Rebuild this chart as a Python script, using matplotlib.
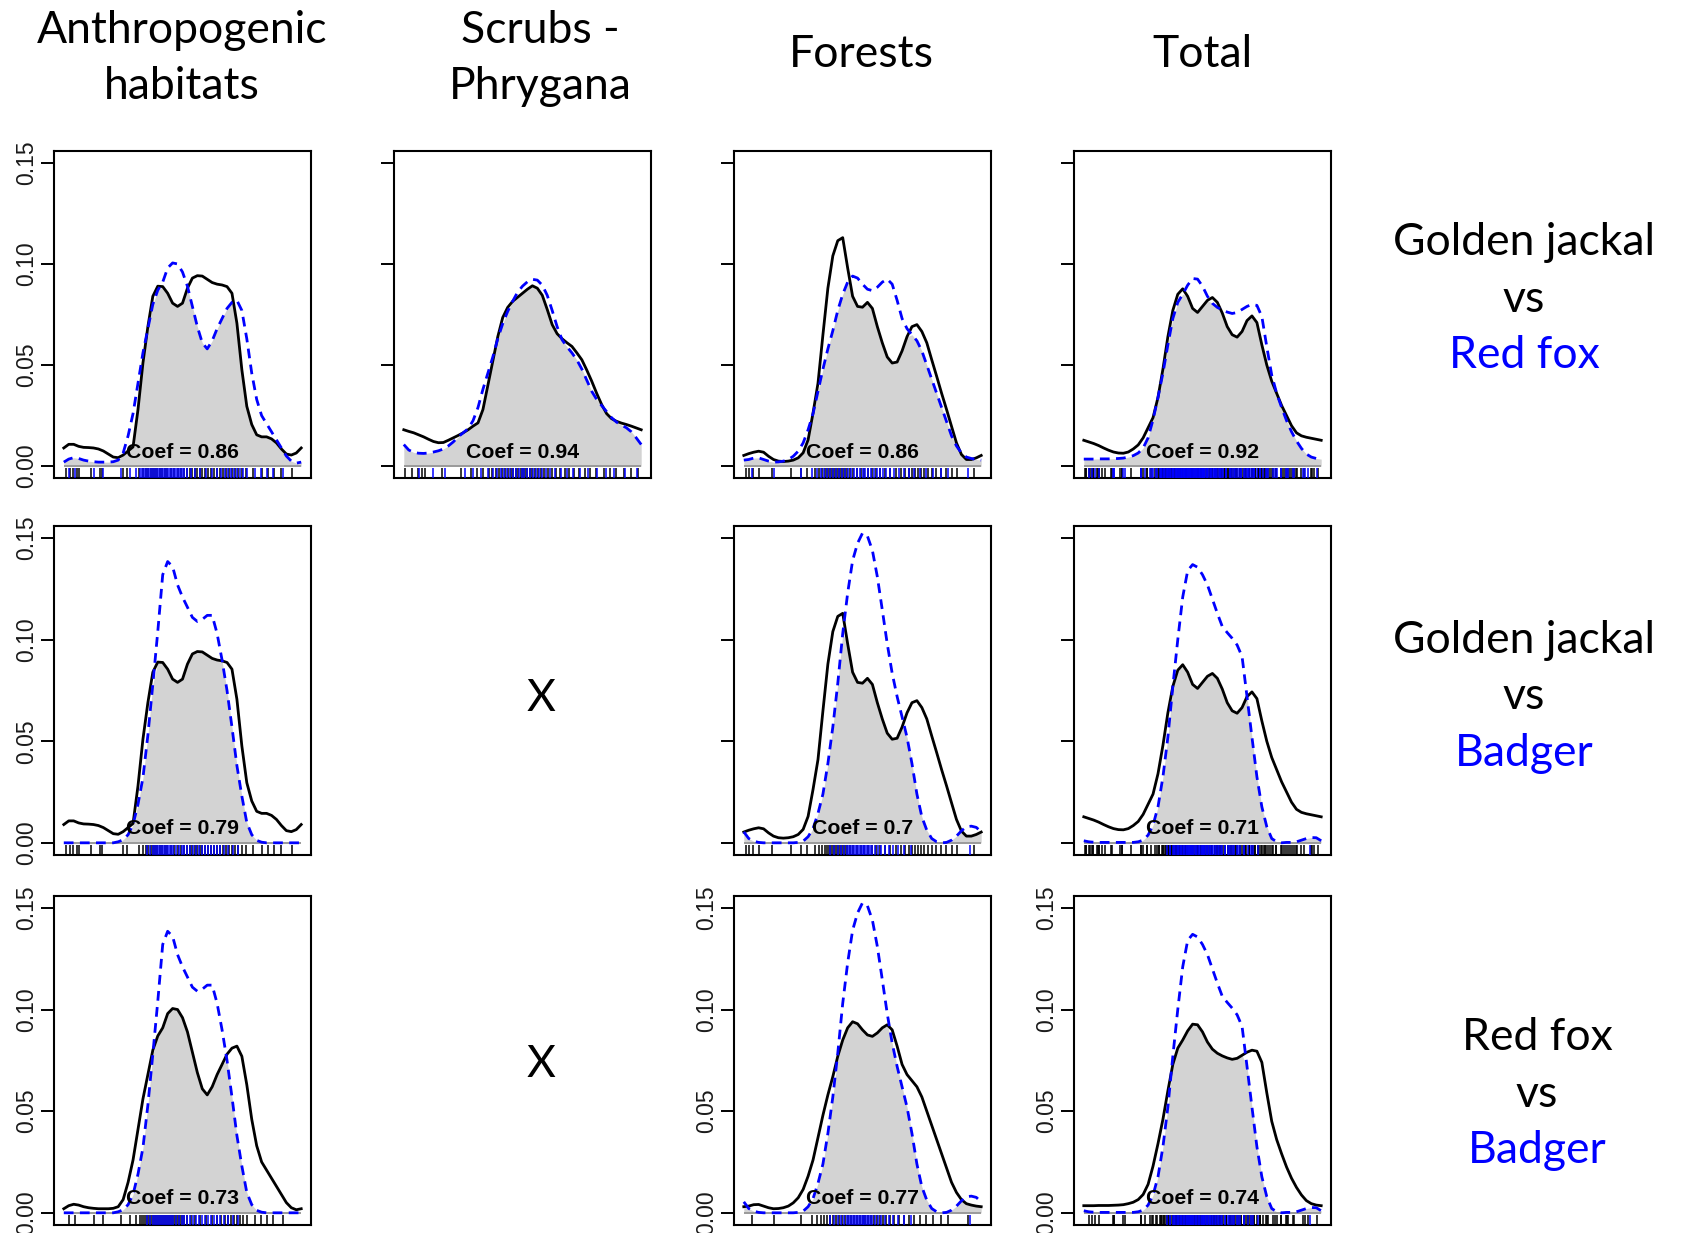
import numpy as np
import matplotlib
matplotlib.use("Agg")
import matplotlib.pyplot as plt

# ---------------- data ----------------
hours = np.arange(0, 24.01, 0.5)   # 49 time points (h)

# Kernel density estimates (0.5 h steps)
jackal_anthro = [0.0090, 0.0108, 0.0108, 0.0098, 0.0093, 0.0092, 0.0090, 0.0085, 0.0075, 0.0060,
                 0.0045, 0.0042, 0.0055, 0.0075, 0.0095, 0.0280, 0.0510, 0.0690, 0.0840, 0.0890,
                 0.0888, 0.0855, 0.0806, 0.0790, 0.0806, 0.0880, 0.0930, 0.0942, 0.0940, 0.0924,
                 0.0908, 0.0900, 0.0896, 0.0888, 0.0855, 0.0707, 0.0477, 0.0296, 0.0206, 0.0155,
                 0.0145, 0.0145, 0.0135, 0.0115, 0.0085, 0.0060, 0.0055, 0.0065, 0.0090]
fox_anthro = [0.0020, 0.0035, 0.0042, 0.0038, 0.0030, 0.0025, 0.0022, 0.0020, 0.0020, 0.0020,
              0.0022, 0.0030, 0.0065, 0.0150, 0.0260, 0.0410, 0.0560, 0.0680, 0.0800, 0.0870,
              0.0910, 0.0980, 0.1005, 0.1000, 0.0960, 0.0890, 0.0790, 0.0690, 0.0610, 0.0580,
              0.0620, 0.0680, 0.0730, 0.0780, 0.0810, 0.0820, 0.0770, 0.0630, 0.0460, 0.0330,
              0.0250, 0.0210, 0.0170, 0.0130, 0.0090, 0.0050, 0.0025, 0.0015, 0.0020]
badger_anthro = [0.0, 0.0, 0.0, 0.0, 0.0, 0.0, 0.0, 0.0, 0.0, 0.0,
                 0.0, 0.0005, 0.0015, 0.0040, 0.0090, 0.0190, 0.0320, 0.0530, 0.0780, 0.1040,
                 0.1320, 0.1385, 0.1360, 0.1270, 0.1210, 0.1160, 0.1110, 0.1090, 0.1100, 0.1120,
                 0.1120, 0.1030, 0.0900, 0.0750, 0.0570, 0.0380, 0.0230, 0.0100, 0.0040, 0.0012,
                 0.0003, 0.0, 0.0, 0.0, 0.0, 0.0, 0.0, 0.0, 0.0]
jackal_scrub = [0.0180, 0.0172, 0.0165, 0.0155, 0.0145, 0.0133, 0.0122, 0.0116, 0.0117, 0.0128,
                0.0140, 0.0152, 0.0165, 0.0180, 0.0198, 0.0214, 0.0280, 0.0400, 0.0520, 0.0640,
                0.0735, 0.0785, 0.0815, 0.0835, 0.0855, 0.0875, 0.0892, 0.0880, 0.0845, 0.0775,
                0.0700, 0.0655, 0.0630, 0.0610, 0.0592, 0.0560, 0.0526, 0.0475, 0.0420, 0.0360,
                0.0305, 0.0260, 0.0235, 0.0222, 0.0213, 0.0206, 0.0198, 0.0189, 0.0180]
fox_scrub = [0.0107, 0.0080, 0.0068, 0.0064, 0.0063, 0.0065, 0.0070, 0.0076, 0.0085, 0.0100,
             0.0120, 0.0145, 0.0165, 0.0185, 0.0225, 0.0290, 0.0380, 0.0460, 0.0540, 0.0630,
             0.0705, 0.0765, 0.0815, 0.0860, 0.0890, 0.0912, 0.0924, 0.0920, 0.0895, 0.0845,
             0.0770, 0.0690, 0.0625, 0.0590, 0.0560, 0.0525, 0.0480, 0.0425, 0.0370, 0.0330,
             0.0300, 0.0270, 0.0240, 0.0218, 0.0203, 0.0190, 0.0170, 0.0140, 0.0107]
jackal_forest = [0.0053, 0.0062, 0.0069, 0.0074, 0.0069, 0.0049, 0.0033, 0.0025, 0.0023, 0.0025,
                 0.0030, 0.0041, 0.0066, 0.0130, 0.0263, 0.0410, 0.0650, 0.0880, 0.1040, 0.1115,
                 0.1130, 0.0980, 0.0840, 0.0790, 0.0786, 0.0810, 0.0780, 0.0690, 0.0610, 0.0540,
                 0.0510, 0.0515, 0.0570, 0.0640, 0.0690, 0.0700, 0.0666, 0.0610, 0.0526, 0.0444,
                 0.0360, 0.0280, 0.0197, 0.0115, 0.0058, 0.0033, 0.0033, 0.0041, 0.0053]
fox_forest = [0.0030, 0.0033, 0.0040, 0.0041, 0.0033, 0.0025, 0.0020, 0.0021, 0.0025, 0.0033,
              0.0049, 0.0074, 0.0115, 0.0180, 0.0260, 0.0370, 0.0480, 0.0580, 0.0670, 0.0770,
              0.0850, 0.0910, 0.0940, 0.0930, 0.0900, 0.0875, 0.0868, 0.0885, 0.0910, 0.0925,
              0.0900, 0.0820, 0.0730, 0.0680, 0.0650, 0.0620, 0.0570, 0.0500, 0.0430, 0.0360,
              0.0290, 0.0220, 0.0150, 0.0100, 0.0065, 0.0045, 0.0038, 0.0033, 0.0030]
badger_forest = [0.0054, 0.0021, 0.0008, 0.0002, 0.0, 0.0, 0.0, 0.0, 0.0, 0.0,
                 0.0, 0.0002, 0.0008, 0.0030, 0.0070, 0.0145, 0.0240, 0.0390, 0.0570, 0.0785,
                 0.1030, 0.1230, 0.1390, 0.1475, 0.1525, 0.1510, 0.1440, 0.1310, 0.1147, 0.0980,
                 0.0835, 0.0720, 0.0620, 0.0520, 0.0390, 0.0240, 0.0128, 0.0062, 0.0021, 0.0005,
                 0.0, 0.0002, 0.0013, 0.0033, 0.0059, 0.0079, 0.0082, 0.0076, 0.0054]
jackal_total = [0.0128, 0.0120, 0.0112, 0.0102, 0.0090, 0.0079, 0.0070, 0.0065, 0.0064, 0.0070,
                0.0085, 0.0105, 0.0140, 0.0190, 0.0240, 0.0340, 0.0480, 0.0640, 0.0770, 0.0850,
                0.0877, 0.0840, 0.0780, 0.0760, 0.0790, 0.0820, 0.0834, 0.0810, 0.0757, 0.0690,
                0.0650, 0.0638, 0.0666, 0.0720, 0.0743, 0.0710, 0.0600, 0.0500, 0.0420, 0.0360,
                0.0300, 0.0250, 0.0200, 0.0165, 0.0150, 0.0143, 0.0138, 0.0133, 0.0128]
fox_total = [0.0035, 0.0035, 0.0035, 0.0036, 0.0036, 0.0036, 0.0037, 0.0038, 0.0040, 0.0045,
             0.0052, 0.0065, 0.0090, 0.0140, 0.0230, 0.0340, 0.0460, 0.0600, 0.0730, 0.0810,
             0.0850, 0.0895, 0.0928, 0.0925, 0.0890, 0.0840, 0.0805, 0.0785, 0.0772, 0.0762,
             0.0755, 0.0760, 0.0775, 0.0790, 0.0800, 0.0795, 0.0740, 0.0590, 0.0450, 0.0360,
             0.0290, 0.0225, 0.0170, 0.0125, 0.0088, 0.0060, 0.0045, 0.0038, 0.0035]
badger_total = [0.0010, 0.0005, 0.0003, 0.0002, 0.0002, 0.0002, 0.0002, 0.0002, 0.0002, 0.0002,
                0.0002, 0.0005, 0.0013, 0.0038, 0.0087, 0.0177, 0.0325, 0.0520, 0.0770, 0.1000,
                0.1210, 0.1340, 0.1370, 0.1357, 0.1320, 0.1270, 0.1200, 0.1130, 0.1065, 0.1035,
                0.1007, 0.0974, 0.0917, 0.0720, 0.0520, 0.0325, 0.0177, 0.0079, 0.0021, 0.0005,
                0.0, 0.0002, 0.0002, 0.0005, 0.0013, 0.0021, 0.0026, 0.0025, 0.0010]

# Detection times (rug), hours
jackal_anthro_rug = [0.2, 0.6, 0.9, 1.3, 1.5, 2.7, 3.7, 3.9, 6.0, 6.4, 7.6, 8.0, 8.3, 8.5, 8.8, 9.0,
                     9.2, 9.4, 9.7, 9.9, 10.2, 10.4, 10.8, 11.1, 11.5, 11.8, 12.2, 12.5, 12.8, 13.0,
                     13.3, 13.5, 13.8, 14.0, 14.3, 14.6, 14.9, 15.2, 15.5, 15.8, 16.1, 16.4, 16.7,
                     17.0, 17.3, 17.6, 18.0, 18.4, 19.1, 20.0, 20.6, 21.2, 22.0, 23.1]
fox_anthro_rug = [0.5, 1.1, 3.1, 4.0, 5.8, 6.7, 7.3, 7.7, 7.9, 8.1, 8.3, 8.5, 8.7, 8.9, 9.1, 9.3,
                  9.5, 9.7, 9.9, 10.1, 10.3, 10.5, 10.7, 10.9, 11.1, 11.3, 11.5, 11.7, 11.9, 12.2,
                  12.5, 12.9, 13.3, 13.8, 14.4, 15.0, 15.5, 15.9, 16.3, 16.6, 16.9, 17.2, 17.5,
                  17.8, 18.1, 18.5, 19.3, 19.9, 20.5, 21.1, 22.2]
badger_anthro_rug = [8.4, 8.7, 9.0, 9.2, 9.4, 9.6, 9.8, 10.0, 10.2, 10.4, 10.6, 10.8, 11.0, 11.3,
                     11.6, 11.9, 12.2, 12.5, 12.8, 13.1, 13.4, 13.7, 14.0, 14.3, 14.6, 14.9, 15.2,
                     15.5, 15.8, 16.2, 16.6, 17.1, 17.6]
jackal_scrub_rug = [0.1, 0.8, 1.4, 1.8, 2.1, 3.9, 5.8, 6.8, 7.4, 8.0, 8.6, 8.9, 9.3, 9.6, 9.9, 10.2,
                    10.5, 10.8, 11.0, 11.3, 11.5, 11.8, 12.0, 12.3, 12.5, 12.8, 13.0, 13.3, 13.6,
                    13.9, 14.2, 14.6, 15.0, 15.4, 15.8, 16.3, 16.7, 17.2, 17.7, 18.3, 18.8, 19.4,
                    20.2, 20.8, 21.5, 22.3, 23.0, 23.7]
fox_scrub_rug = [1.5, 3.0, 4.2, 6.2, 7.0, 7.8, 8.5, 9.0, 9.4, 9.8, 10.1, 10.4, 10.7, 11.0, 11.3,
                 11.6, 11.9, 12.2, 12.5, 12.8, 13.1, 13.4, 13.7, 14.0, 14.4, 14.8, 15.3, 15.9,
                 16.5, 17.1, 17.8, 18.6, 19.5, 20.4, 21.3, 22.4, 23.6]
jackal_forest_rug = [0.2, 0.5, 0.9, 1.5, 2.9, 4.8, 5.8, 6.4, 7.2, 7.6, 7.9, 8.2, 8.4, 8.6, 8.8, 9.0,
                     9.2, 9.4, 9.6, 9.8, 10.0, 10.2, 10.4, 10.7, 11.0, 11.4, 11.8, 12.2, 12.6, 13.0,
                     13.4, 13.8, 14.3, 14.8, 15.4, 15.9, 16.3, 16.7, 17.0, 17.3, 17.6, 17.9, 18.2,
                     18.6, 19.0, 19.4, 19.9, 20.4, 21.0, 21.6, 23.3]
fox_forest_rug = [0.8, 3.1, 5.8, 6.9, 7.4, 7.8, 8.1, 8.4, 8.7, 9.0, 9.3, 9.6, 9.9, 10.2, 10.5, 10.8,
                  11.1, 11.4, 11.7, 12.0, 12.3, 12.6, 12.9, 13.2, 13.5, 13.8, 14.1, 14.4, 14.8,
                  15.2, 15.7, 16.2, 16.7, 17.2, 17.8, 18.4, 19.1, 19.9, 20.6, 22.7]
badger_forest_rug = [8.7, 9.1, 9.5, 9.8, 10.1, 10.4, 10.6, 10.8, 11.0, 11.2, 11.4, 11.6, 11.8, 12.0,
                     12.2, 12.4, 12.6, 12.8, 13.0, 13.3, 13.6, 13.9, 14.3, 14.7, 15.1, 15.6, 16.2,
                     16.9, 22.9]
# whole study area = all habitats pooled
jackal_total_rug = jackal_anthro_rug + jackal_scrub_rug + jackal_forest_rug
fox_total_rug = fox_anthro_rug + fox_scrub_rug + fox_forest_rug
badger_total_rug = badger_anthro_rug + badger_forest_rug

col_titles = [["Anthropogenic", "habitats"], ["Scrubs -", "Phrygana"], ["Forests"], ["Total"]]
row_labels = [("Golden jackal", "Red fox"), ("Golden jackal", "Badger"), ("Red fox", "Badger")]
yticks = [0.0, 0.05, 0.10, 0.15]
ytick_labels = ["0.00", "0.05", "0.10", "0.15"]

# (row, col, dens A, dens B, rug A, rug B, coefficient, show y labels)
panels = [
    (0, 0, jackal_anthro, fox_anthro, jackal_anthro_rug, fox_anthro_rug, 0.86, True),
    (0, 1, jackal_scrub, fox_scrub, jackal_scrub_rug, fox_scrub_rug, 0.94, False),
    (0, 2, jackal_forest, fox_forest, jackal_forest_rug, fox_forest_rug, 0.86, False),
    (0, 3, jackal_total, fox_total, jackal_total_rug, fox_total_rug, 0.92, False),
    (1, 0, jackal_anthro, badger_anthro, jackal_anthro_rug, badger_anthro_rug, 0.79, True),
    (1, 2, jackal_forest, badger_forest, jackal_forest_rug, badger_forest_rug, 0.7, False),
    (1, 3, jackal_total, badger_total, jackal_total_rug, badger_total_rug, 0.71, False),
    (2, 0, fox_anthro, badger_anthro, fox_anthro_rug, badger_anthro_rug, 0.73, True),
    (2, 2, fox_forest, badger_forest, fox_forest_rug, badger_forest_rug, 0.77, True),
    (2, 3, fox_total, badger_total, fox_total_rug, badger_total_rug, 0.74, True),
]
missing = [(1, 1), (2, 1)]

# ---------------- layout ----------------
W, H = 1685, 1233
fig = plt.figure(figsize=(W / 100, H / 100), dpi=100)
col_left = [54.3, 394.3, 734.3, 1074.3]
panel_w = 256.4
row_top = [150.7, 526.0, 895.7]
row_h = [327.6, 329.0, 329.3]

TITLE_FONT = ["Lato", "DejaVu Sans"]
TITLE_SIZE = 32
BLUE = "#0000FF"
ARIAL = ["Liberation Sans", "DejaVu Sans"]


def fx(x):
    return x / W


def fy(y):
    return 1 - y / H


for (r, c, a, b, ra, rb, coef, showlab) in panels:
    l, t, h = col_left[c], row_top[r], row_h[r]
    ax = fig.add_axes([fx(l), fy(t + h), panel_w / W, h / H])
    a = np.asarray(a)
    b = np.asarray(b)
    ax.fill_between(hours, 0, np.minimum(a, b), color="#D3D3D3", lw=0, zorder=1)
    ax.hlines(0, hours[0], hours[-1], color="#9a9a9a", lw=1.4, zorder=2)
    ax.plot(hours, a, color="black", lw=2.0, zorder=3)
    ax.plot(hours, b, color=BLUE, lw=2.0, dashes=(3.5, 2.3), zorder=4)
    ax.text(12, 0.0041, f"Coef = {coef:g}", ha="center", va="baseline",
            fontsize=15.3, fontweight="bold", family=ARIAL, zorder=5)
    ax.vlines(ra, -0.006, -0.0009, color="black", lw=1.1, zorder=3)
    ax.vlines(rb, -0.006, -0.0009, color=BLUE, lw=1.1, zorder=4)
    ax.set_xlim(-0.96, 24.96)
    ax.set_ylim(-0.006, 0.156)
    ax.set_xticks([])
    ax.set_yticks(yticks)
    ax.tick_params(axis="y", direction="out", length=9.5, width=1.4, pad=2.0,
                   labelleft=showlab)
    if showlab:
        ax.set_yticklabels(ytick_labels, rotation=90, va="center",
                           family=ARIAL, fontsize=16.5, color="#1a1a1a")
    for s in ax.spines.values():
        s.set_linewidth(1.5)

# column titles
title_x = [182, 540, 861, 1202]
for cx, lines in zip(title_x, col_titles):
    base = [43, 99] if len(lines) == 2 else [67]
    for yb, txt in zip(base, lines):
        fig.text(fx(cx), fy(yb), txt, ha="center", va="baseline",
                 fontsize=TITLE_SIZE, family=TITLE_FONT)

# row labels
row_x = [1524, 1524, 1537]
row_base = [255, 652.6, 1050]
for (sp1, sp2), rx, rb in zip(row_labels, row_x, row_base):
    fig.text(fx(rx), fy(rb), sp1, ha="center", va="baseline", fontsize=TITLE_SIZE, family=TITLE_FONT)
    fig.text(fx(rx), fy(rb + 56.7), "vs", ha="center", va="baseline", fontsize=TITLE_SIZE, family=TITLE_FONT)
    fig.text(fx(rx), fy(rb + 113.4), sp2, ha="center", va="baseline", fontsize=TITLE_SIZE,
             family=TITLE_FONT, color=BLUE)

# missing panels
x_base = {1: 711, 2: 1077}
for (r, c) in missing:
    fig.text(fx(540.5), fy(x_base[r]), "X", ha="center", va="baseline",
             fontsize=TITLE_SIZE, family=TITLE_FONT)

fig.savefig("out.png", dpi=100)
